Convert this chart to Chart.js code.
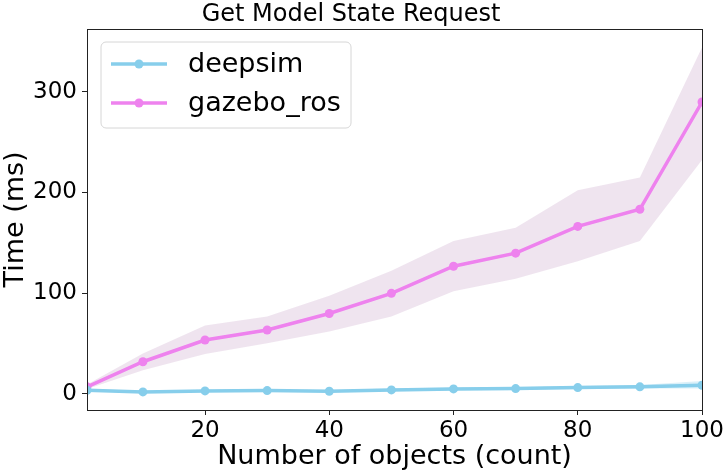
<!DOCTYPE html>
<html>
<head>
<meta charset="utf-8">
<script src="https://cdn.jsdelivr.net/npm/chart.js@4.4.0/dist/chart.umd.min.js"></script>
<style>
  body { margin: 0; background: #fff; }
  #wrap { width: 726px; height: 473px; }
</style>
</head>
<body>
<div id="wrap"><canvas id="modelStateChart" width="726" height="473"></canvas></div>
<script>
// Number of objects in the world
var objectCounts = [1, 10, 20, 30, 40, 50, 60, 70, 80, 90, 100];

// deepsim mean time (ms) and spread
var deepsimMean  = [3.3, 1.7, 2.7, 3.0, 2.3, 3.7, 4.7, 5.0, 6.0, 6.7, 8.3];
var deepsimUpper = [4.5, 2.8, 3.8, 4.2, 3.5, 5.0, 6.0, 6.4, 7.6, 8.6, 12.5];
var deepsimLower = [2.2, 0.8, 1.7, 1.9, 1.3, 2.5, 3.4, 3.7, 4.6, 5.0, 5.0];

// gazebo_ros mean time (ms) and spread
var gazeboMean  = [6.7, 31.7, 53.3, 63.3, 79.7, 99.7, 126.7, 139.7, 166.3, 183.3, 290];
var gazeboUpper = [9, 40, 67.7, 76.7, 97.3, 122.3, 151.7, 165, 202.3, 215, 344.3];
var gazeboLower = [4.5, 23.3, 39.3, 50, 61.7, 76.7, 101.7, 114.3, 131.7, 151.7, 232.3];

var xTicks = [20, 40, 60, 80, 100];
var yTicks = [0, 100, 200, 300];

var seriesNames = ['deepsim', 'gazebo_ros'];
var seriesColors = ['#87ceeb', '#ee82ee'];

var FONT = "'DejaVu Sans', sans-serif";

function toPoints(values) {
    return objectCounts.map(function(x, i) { return { x: x, y: values[i] }; });
}

function lineSet(label, values, color) {
    return {
        label: label,
        data: toPoints(values),
        borderColor: color,
        backgroundColor: color,
        borderWidth: 3.5,
        pointRadius: 4.5,
        pointHoverRadius: 4.5,
        pointBorderWidth: 0,
        fill: false,
        tension: 0
    };
}

function bandSet(values, fill, fillColor) {
    return {
        label: '',
        data: toPoints(values),
        borderWidth: 0,
        borderColor: 'rgba(0,0,0,0)',
        pointRadius: 0,
        fill: fill,
        backgroundColor: fillColor,
        tension: 0
    };
}

// Draws the box around the plot and the legend inside it
var framePlugin = {
    id: 'frame',
    afterDraw: function(chart) {
        var ctx = chart.ctx;
        var a = chart.chartArea;
        ctx.save();
        ctx.strokeStyle = '#222';
        ctx.lineWidth = 1;
        ctx.strokeRect(Math.round(a.left) + 0.5, Math.round(a.top) + 0.5,
            Math.round(a.right - a.left), Math.round(a.bottom - a.top));

        // legend box
        var bx = 101, by = 42, bw = 250, bh = 86, r = 5;
        ctx.fillStyle = 'rgba(255,255,255,0.8)';
        ctx.strokeStyle = '#d6d6d6';
        ctx.beginPath();
        ctx.moveTo(bx + r, by);
        ctx.arcTo(bx + bw, by, bx + bw, by + bh, r);
        ctx.arcTo(bx + bw, by + bh, bx, by + bh, r);
        ctx.arcTo(bx, by + bh, bx, by, r);
        ctx.arcTo(bx, by, bx + bw, by, r);
        ctx.closePath();
        ctx.fill();
        ctx.stroke();

        ctx.font = '27px ' + FONT;
        ctx.textBaseline = 'middle';
        for (var i = 0; i < seriesNames.length; i++) {
            var y = 64 + i * 39;
            ctx.strokeStyle = seriesColors[i];
            ctx.lineWidth = 3.5;
            ctx.beginPath();
            ctx.moveTo(111, y);
            ctx.lineTo(167, y);
            ctx.stroke();
            ctx.fillStyle = seriesColors[i];
            ctx.beginPath();
            ctx.arc(139, y, 4.5, 0, Math.PI * 2);
            ctx.fill();
            ctx.fillStyle = '#000';
            ctx.fillText(seriesNames[i], 188, y + 1);
        }
        ctx.restore();
    }
};

var modelStateChart = new Chart(document.getElementById('modelStateChart'), {
    type: 'line',
    data: {
        datasets: [
            lineSet(seriesNames[0], deepsimMean, seriesColors[0]),
            lineSet(seriesNames[1], gazeboMean, seriesColors[1]),
            bandSet(deepsimUpper, '+1', 'rgba(135,206,235,0.3)'),
            bandSet(deepsimLower, false, 'rgba(0,0,0,0)'),
            bandSet(gazeboUpper, '+1', 'rgba(216,191,216,0.42)'),
            bandSet(gazeboLower, false, 'rgba(0,0,0,0)')
        ]
    },
    options: {
        responsive: false,
        animation: false,
        layout: {
            padding: { left: 0, right: 24, top: 0, bottom: 0 }
        },
        plugins: {
            legend: { display: false },
            tooltip: { enabled: false },
            title: {
                display: true,
                text: 'Get Model State Request',
                color: '#000',
                font: { family: FONT, size: 24, weight: 'normal' },
                padding: { top: 0, bottom: 0 }
            }
        },
        scales: {
            x: {
                type: 'linear',
                min: 1,
                max: 100,
                afterBuildTicks: function(scale) {
                    scale.ticks = xTicks.map(function(v) { return { value: v }; });
                },
                afterFit: function(scale) { scale.height = 63; },
                grid: { drawOnChartArea: false, drawTicks: true, tickLength: 5, color: '#222' },
                border: { display: false },
                ticks: {
                    color: '#000',
                    padding: 2,
                    maxRotation: 0,
                    font: { family: FONT, size: 23 }
                },
                title: {
                    display: true,
                    text: 'Number of objects (count)',
                    color: '#000',
                    padding: 0,
                    font: { family: FONT, size: 27 }
                }
            },
            y: {
                type: 'linear',
                min: -16.3,
                max: 362.8,
                afterBuildTicks: function(scale) {
                    scale.ticks = yTicks.map(function(v) { return { value: v }; });
                },
                afterFit: function(scale) { scale.width = 87; },
                grid: { drawOnChartArea: false, drawTicks: true, tickLength: 5, color: '#222' },
                border: { display: false },
                ticks: {
                    color: '#000',
                    padding: 5,
                    font: { family: FONT, size: 23 }
                },
                title: {
                    display: true,
                    text: 'Time (ms)',
                    color: '#000',
                    padding: 0,
                    font: { family: FONT, size: 27 }
                }
            }
        }
    },
    plugins: [framePlugin]
});
</script>
</body>
</html>
